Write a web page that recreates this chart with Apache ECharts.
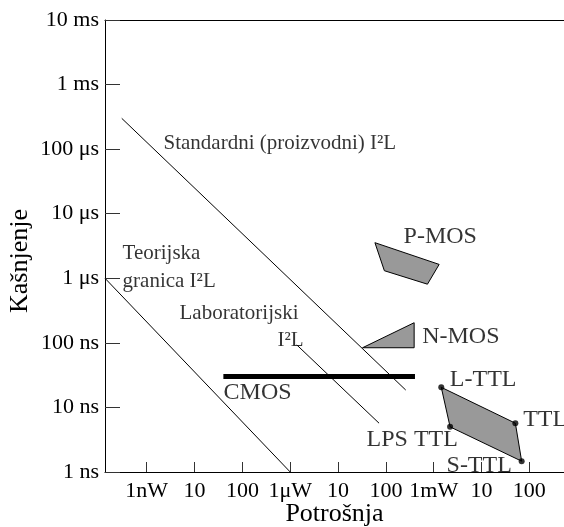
<!DOCTYPE html>
<html>
<head>
<meta charset="utf-8">
<script src="https://cdn.jsdelivr.net/npm/echarts@6/dist/echarts.min.js"></script>
<style>
  html, body { margin: 0; padding: 0; background: #fff; }
  #chart { width: 564px; height: 527px; }
</style>
</head>
<body>
<div id="chart"></div>
<script>
// power (W) on x, delay (s) on y, both log scale
var powerTicks = [1e-9, 1e-8, 1e-7, 1e-6, 1e-5, 1e-4, 1e-3, 1e-2, 1e-1];
var powerLabels = ['1nW', '10', '100', '1μW', '10', '100', '1mW', '10', '100'];
var delayTicks = [1e-9, 1e-8, 1e-7, 1e-6, 1e-5, 1e-4, 1e-3, 1e-2];
var delayLabels = ['1 ns', '10 ns', '100 ns', '1 μs', '10 μs', '100 μs', '1 ms', '10 ms'];
var powerMin = 1.34e-10, powerMax = 0.53;
var delayMin = 1e-9, delayMax = 1e-2;

// I2L lines
var standardI2L = [[3.0e-10, 3.0e-4], [2.6e-4, 1.86e-8]];
var theoryI2L = [[1.34e-10, 1e-6], [1e-6, 1e-9]];
var labI2L = [[1.37e-6, 9.3e-8], [7.2e-5, 5.7e-9]];
// CMOS band
var cmos = [[4.0e-8, 3.0e-8], [4.06e-4, 3.0e-8]];
// regions
var nmos = [[3.25e-5, 8.4e-8], [3.9e-4, 2.05e-7], [3.9e-4, 8.4e-8]];
var pmos = [[5.9e-5, 3.56e-6], [1.3e-3, 1.64e-6], [7.4e-4, 8.1e-7], [9.3e-5, 1.31e-6]];
// L-TTL, TTL, S-TTL, LPS TTL
var ttlFamily = [[1.44e-3, 2.05e-8], [5.1e-2, 5.7e-9], [6.9e-2, 1.47e-9], [2.2e-3, 5.0e-9]];

// text anchors (left edge, middle)
var i2lNotes = [
  [2.19e-9, 1.24e-4, 'Standardni (proizvodni) I²L'],
  [3.05e-10, 2.38e-6, 'Teorijska'],
  [3.05e-10, 9.08e-7, 'granica I²L'],
  [4.73e-9, 2.9e-7, 'Laboratorijski'],
  [5.3e-7, 1.07e-7, 'I²L']
];
var deviceNotes = [
  [3.94e-8, 1.67e-8, 'CMOS'],
  [2.29e-4, 4.36e-6, 'P-MOS'],
  [5.6e-4, 1.25e-7, 'N-MOS'],
  [2.12e-3, 2.66e-8, 'L-TTL'],
  [7.26e-2, 6.38e-9, 'TTL'],
  [3.85e-5, 3.13e-9, 'LPS TTL'],
  [1.81e-3, 1.24e-9, 'S-TTL']
];

var serif = "'Liberation Serif', 'Times New Roman', serif";

function lineSeries(pts, width) {
  return {
    type: 'line',
    data: pts,
    symbol: 'none',
    silent: true,
    lineStyle: { color: '#000', width: width },
    z: 3
  };
}

function polygonSeries(pts) {
  return {
    type: 'custom',
    data: pts,
    silent: true,
    renderItem: function (params, api) {
      if (params.dataIndex !== 0) return null;
      return {
        type: 'polygon',
        shape: { points: pts.map(function (p) { return api.coord(p); }) },
        style: { fill: '#999', stroke: '#000', lineWidth: 1 }
      };
    },
    z: 2
  };
}

function noteSeries(notes, size) {
  return {
    type: 'scatter',
    data: notes.map(function (n) { return { value: [n[0], n[1]], name: n[2] }; }),
    symbolSize: 1,
    itemStyle: { color: 'rgba(0,0,0,0)' },
    silent: true,
    label: {
      show: true,
      position: 'right',
      distance: 0,
      formatter: '{b}',
      color: '#000',
      fontFamily: serif,
      fontSize: size
    },
    z: 5
  };
}

var chart = echarts.init(document.getElementById('chart'));
chart.setOption({
  animation: false,
  backgroundColor: '#fff',
  grid: { left: 105, right: 0, top: 20, bottom: 55, containLabel: false, outerBoundsMode: 'none' },
  xAxis: [{
    type: 'log',
    min: powerMin,
    max: powerMax,
    name: 'Potrošnja',
    nameLocation: 'middle',
    nameGap: 29,
    nameMoveOverlap: false,
    nameTextStyle: { fontFamily: serif, fontSize: 26, color: '#000' },
    axisLine: { lineStyle: { color: '#000', width: 1 } },
    axisTick: { inside: true, length: 10, customValues: powerTicks, lineStyle: { color: '#333' } },
    axisLabel: {
      customValues: powerTicks,
      margin: 8,
      fontFamily: serif,
      fontSize: 22,
      color: '#000',
      formatter: function (v) { return powerLabels[Math.round(Math.log10(v)) + 9]; }
    },
    splitLine: { show: false }
  }, {
    type: 'log',
    position: 'top',
    min: powerMin,
    max: powerMax,
    axisLine: { lineStyle: { color: '#000', width: 1 } },
    axisTick: { show: false },
    axisLabel: { show: false },
    splitLine: { show: false }
  }],
  yAxis: {
    type: 'log',
    min: delayMin,
    max: delayMax,
    name: 'Kašnjenje',
    nameLocation: 'middle',
    nameGap: 72,
    nameMoveOverlap: false,
    nameTextStyle: { fontFamily: serif, fontSize: 26, color: '#000', padding: [0, 30, 0, 0] },
    axisLine: { lineStyle: { color: '#000', width: 1 } },
    axisTick: { inside: true, length: 15, customValues: delayTicks, lineStyle: { color: '#333' } },
    axisLabel: {
      customValues: delayTicks,
      margin: 6,
      fontFamily: serif,
      fontSize: 22,
      color: '#000',
      formatter: function (v) { return delayLabels[Math.round(Math.log10(v)) + 9]; }
    },
    splitLine: { show: false }
  },
  series: [
    lineSeries(standardI2L, 1),
    lineSeries(theoryI2L, 1),
    lineSeries(labI2L, 1),
    lineSeries(cmos, 5),
    polygonSeries(pmos),
    polygonSeries(nmos),
    polygonSeries(ttlFamily),
    {
      type: 'scatter',
      data: ttlFamily,
      symbolSize: 6,
      itemStyle: { color: '#000' },
      silent: true,
      z: 4
    },
    noteSeries(i2lNotes, 21),
    noteSeries(deviceNotes, 24)
  ]
});
</script>
</body>
</html>
